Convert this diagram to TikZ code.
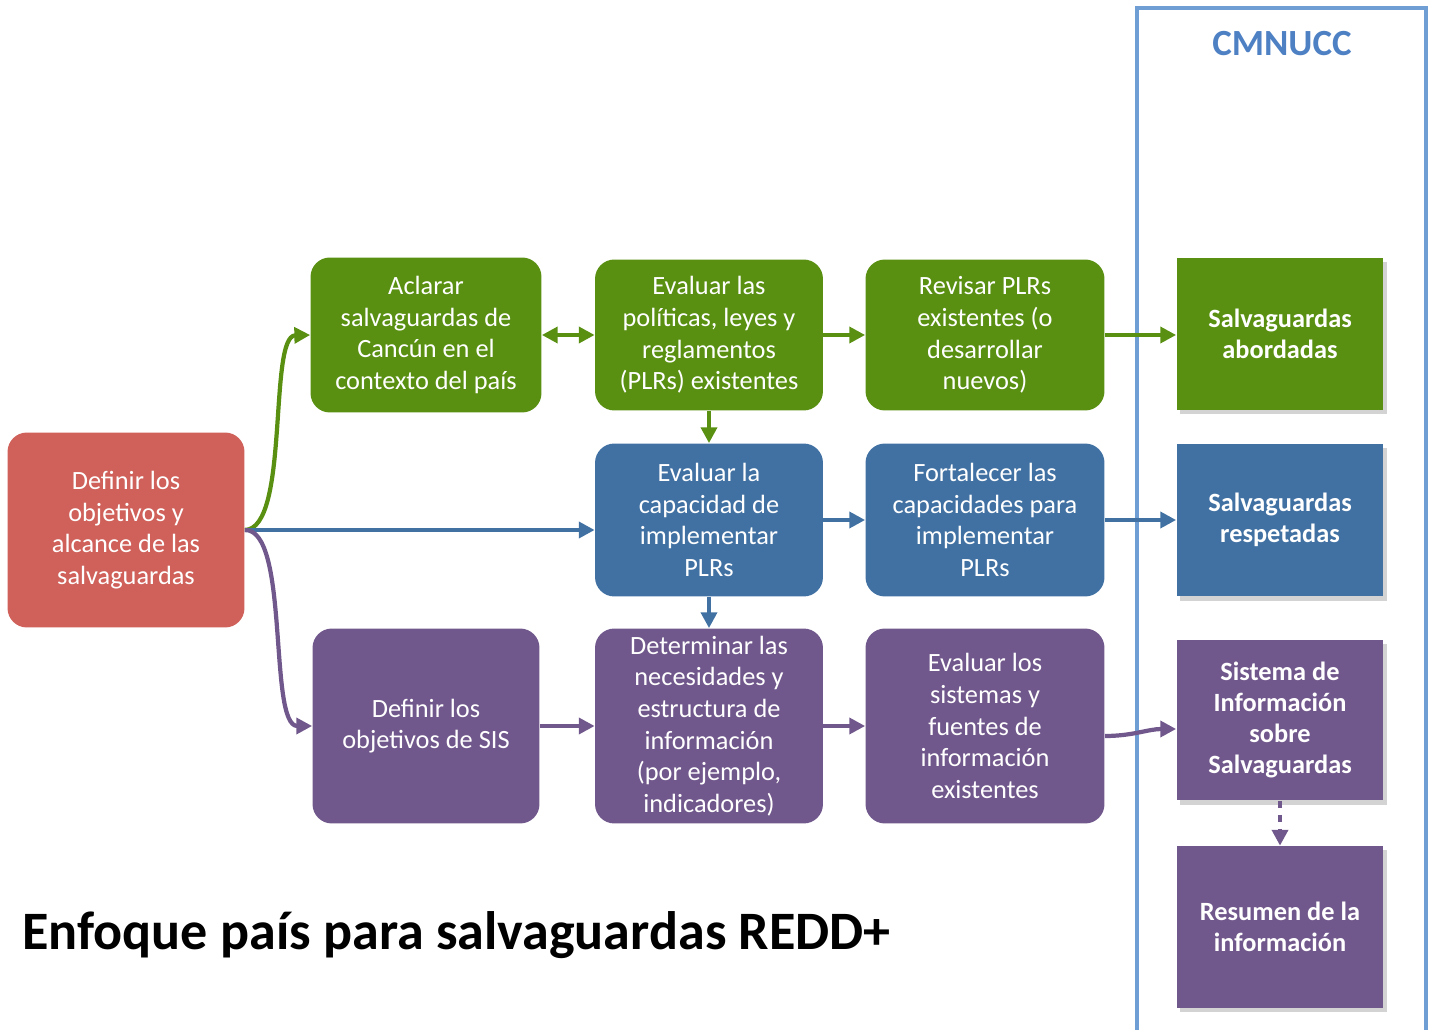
\documentclass[tikz,border=0pt]{standalone}
\usepackage{fontspec}
\setmainfont{Carlito}
\usetikzlibrary{arrows.meta,shadows}
\definecolor{rojo}{RGB}{207,97,90}
\definecolor{verde}{RGB}{89,144,18}
\definecolor{azul}{RGB}{65,113,163}
\definecolor{morado}{RGB}{113,88,140}
\definecolor{marco}{RGB}{110,158,212}
\definecolor{titulo}{RGB}{78,128,196}
\tikzset{
>={Triangle[length=9pt,width=9pt]},
caja/.style={rounded corners=11pt,text=white,align=center,inner sep=0pt,
  font=\fontsize{15}{18}\selectfont},
final/.style={text=white,align=center,inner sep=0pt,minimum width=4.14cm,
  font=\bfseries\fontsize{15}{17.6}\selectfont,
  drop shadow={opacity=0.35,shadow xshift=2pt,shadow yshift=-2.5pt}},
flecha/.style={->,line width=2.4pt},
doble/.style={<->,line width=2.4pt}}

\begin{document}
\begin{tikzpicture}[x=0.02cm,y=-0.02cm]
\useasboundingbox (0,0) rectangle (1434,1030);

% marco CMNUCC
\draw[marco,line width=1.9pt] (1137,1040) -- (1137,8) -- (1426,8) -- (1426,1040);
\node[titulo,font=\bfseries\fontsize{21}{24}\selectfont] (cmnucc) at (1282,44) {CMNUCC};

\node[caja,fill=rojo,minimum width=4.74cm,minimum height=3.9cm] (def) at (126,530)
  {Definir los\\objetivos y\\alcance de las\\salvaguardas};

\node[caja,fill=verde,minimum width=4.62cm,minimum height=3.1cm] (v1) at (426,335)
  {Aclarar\\salvaguardas de\\Cancún en el\\contexto del país};
\node[caja,fill=verde,minimum width=4.56cm,minimum height=3.02cm] (v2) at (709,335)
  {Evaluar las\\políticas, leyes y\\reglamentos\\(PLRs) existentes};
\node[caja,fill=verde,minimum width=4.78cm,minimum height=3.02cm] (v3) at (985,335)
  {Revisar PLRs\\existentes (o\\desarrollar\\nuevos)};
\node[final,fill=verde,minimum height=3.04cm] (v4) at (1280,334)
  {Salvaguardas\\abordadas};

\node[caja,fill=azul,minimum width=4.56cm,minimum height=3.06cm] (a1) at (709,520)
  {Evaluar la\\capacidad de\\implementar\\PLRs};
\node[caja,fill=azul,minimum width=4.78cm,minimum height=3.06cm] (a2) at (985,520)
  {Fortalecer las\\capacidades para\\implementar\\PLRs};
\node[final,fill=azul,minimum height=3.06cm] (a3) at (1280,520)
  {Salvaguardas\\respetadas};

\node[caja,fill=morado,minimum width=4.54cm,minimum height=3.9cm] (m1) at (426,726)
  {Definir los\\objetivos de SIS};
\node[caja,fill=morado,minimum width=4.56cm,minimum height=3.9cm] (m2) at (709,726)
  {Determinar las\\necesidades y\\estructura de\\información\\(por ejemplo,\\indicadores)};
\node[caja,fill=morado,minimum width=4.78cm,minimum height=3.9cm] (m3) at (985,726)
  {Evaluar los\\sistemas y\\fuentes de\\información\\existentes};
\node[final,fill=morado,minimum height=3.22cm] (m4) at (1280,720)
  {Sistema de\\Información\\sobre\\Salvaguardas};
\node[final,fill=morado,minimum height=3.24cm] (m5) at (1280,927)
  {Resumen de la\\información};

\node[anchor=west,font=\bfseries\fontsize{30.8}{36}\selectfont] (tit) at (16,935)
  {Enfoque país para salvaguardas REDD+};

\draw[flecha,verde] (def.east) .. controls (290,529) and (268,336) .. (v1.west);
\draw[flecha,azul] (def.east) -- (def.east -| a1.west);
\draw[flecha,morado] (def.east) .. controls (290,529) and (268,726) .. (m1.west);

\draw[doble,verde] (v1) -- (v2);
\draw[flecha,verde] (v2) -- (v3);
\draw[flecha,verde] (v3) -- (v3 -| v4.west);
\draw[flecha,verde] (v2) -- (a1);

\draw[flecha,azul] (a1) -- (a2);
\draw[flecha,azul] (a2) -- (a3);
\draw[flecha,azul] (a1) -- (m2);

\draw[flecha,morado] (m1) -- (m2);
\draw[flecha,morado] (m2) -- (m3);
\draw[flecha,morado] ([yshift=-0.2cm]m3.east) to[out=0,in=180] ([yshift=-0.18cm]m4.west);
\draw[flecha,morado,dash pattern=on 4pt off 4pt] (m4) -- (m5);

\end{tikzpicture}
\end{document}
